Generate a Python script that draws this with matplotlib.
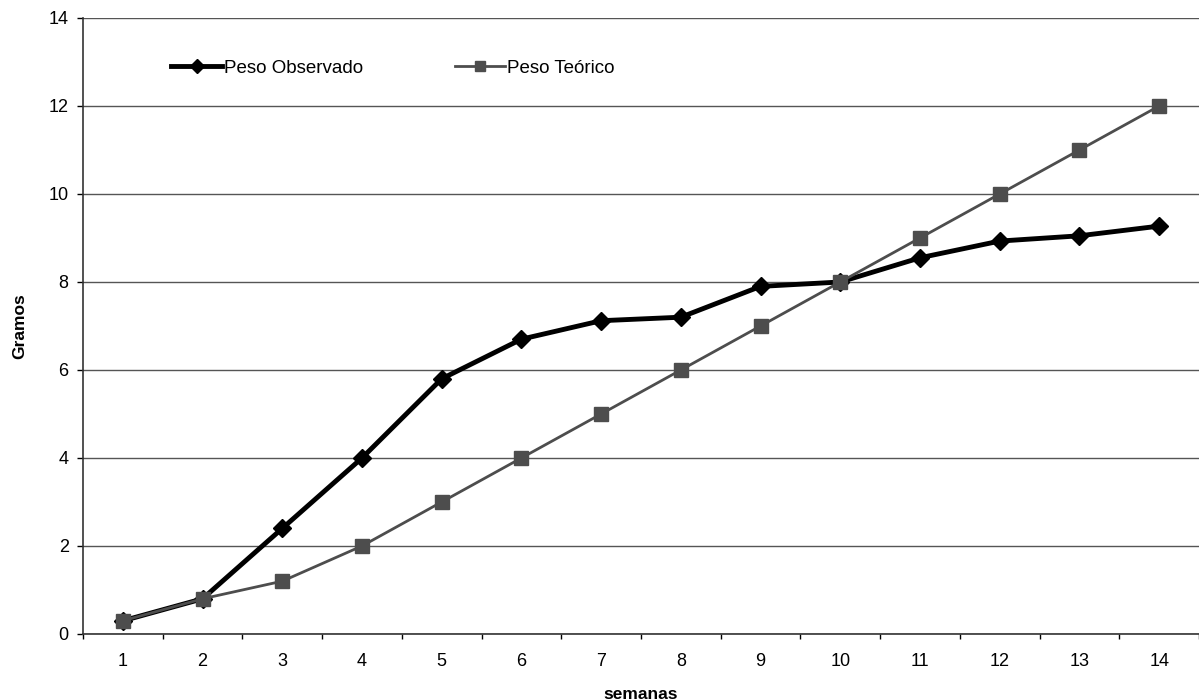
import matplotlib
matplotlib.use("Agg")
import matplotlib.pyplot as plt
from matplotlib.ticker import FixedLocator

plt.rcParams['font.family'] = ['Liberation Sans', 'DejaVu Sans']

semanas = list(range(1, 15))
peso_observado = [0.3, 0.8, 2.4, 4.0, 5.8, 6.7, 7.12, 7.2, 7.9, 8.0, 8.55, 8.93, 9.05, 9.27]
peso_teorico = [0.3, 0.8, 1.2, 2, 3, 4, 5, 6, 7, 8, 9, 10, 11, 12]
y_ticks = [0, 2, 4, 6, 8, 10, 12, 14]

fig = plt.figure(figsize=(11.99, 7.0), dpi=100)
ax = fig.add_axes([0.0692, 0.0943, 0.9308, 0.88])

ax.plot(semanas, peso_teorico, color='#4d4d4d', lw=2.0, marker='s', ms=9.5,
        mfc='#4d4d4d', mec='#4d4d4d', label='Peso Teórico', zorder=3)
ax.plot(semanas, peso_observado, color='black', lw=3.5, marker='D', ms=9,
        mfc='black', mec='black', label='Peso Observado', zorder=2)

ax.set_xlim(0.5, 14.5)
ax.set_ylim(0, 14)
ax.set_yticks(y_ticks)
ax.yaxis.grid(True, color='#555555', lw=1)
ax.set_axisbelow(True)

# category labels centred, tick marks on the boundaries between weeks
ax.set_xticks(semanas)
ax.xaxis.set_minor_locator(FixedLocator([x + 0.5 for x in range(0, 15)]))
ax.tick_params(axis='x', which='major', length=0, labelsize=13, pad=14)
ax.tick_params(axis='x', which='minor', length=3.8, width=1, direction='out')
ax.tick_params(axis='y', length=4.3, width=1, direction='out', labelsize=13, pad=6)

for s in ['top', 'right']:
    ax.spines[s].set_visible(False)
for s in ['left', 'bottom']:
    ax.spines[s].set_color('#333333')
    ax.spines[s].set_linewidth(1.2)

ax.set_xlabel('semanas', fontsize=12.5, fontweight='bold', labelpad=12)
ax.set_ylabel('Gramos', fontsize=12.5, fontweight='bold', labelpad=15)

handles, labels = ax.get_legend_handles_labels()
leg = ax.legend(handles[::-1], labels[::-1], ncol=2, frameon=False, fontsize=13.5,
                loc='upper left', bbox_to_anchor=(0.064, 0.96), handlelength=2.7,
                handletextpad=0.1, columnspacing=4.9, markerscale=0.8)

fig.savefig('out.png', dpi=100)
